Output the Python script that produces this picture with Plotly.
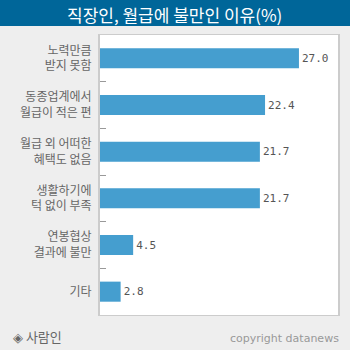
import plotly.graph_objects as go

categories = ["노력만큼<br>받지 못함", "동종업계에서<br>월급이 적은 편", "월급 외 어떠한<br>혜택도 없음",
              "생활하기에<br>턱 없이 부족", "연봉협상<br>결과에 불만", "기타"]
values = [27.0, 22.4, 21.7, 21.7, 4.5, 2.8]
value_labels = ["27.0", "22.4", "21.7", "21.7", "4.5", "2.8"]
title_text = "직장인, 월급에 불만인 이유(%)"
source_left = "◈ 사람인"
source_right = "copyright datanews"

KR = "Noto Sans CJK KR"

fig = go.Figure()
fig.add_trace(go.Bar(
    x=values, y=categories, orientation="h",
    marker=dict(color="#459ECF", line=dict(width=0)),
    width=0.43,
    text=value_labels, textposition="outside",
    textfont=dict(family="DejaVu Sans Mono", size=11, color="#555555"),
    cliponaxis=False,
))

fig.update_layout(
    width=350, height=350,
    paper_bgcolor="#EEEEEE", plot_bgcolor="#FFFFFF",
    margin=dict(l=100, r=10, t=35, b=35),
    showlegend=False,
    xaxis=dict(range=[0, 32.3], showgrid=False, zeroline=False, showticklabels=False,
               showline=True, linecolor="#CCCCCC", linewidth=1, mirror=True, fixedrange=True),
    yaxis=dict(autorange="reversed", showgrid=False, zeroline=False,
               showline=True, linecolor="#CCCCCC", linewidth=2, mirror=True,
               ticks="inside", tickson="boundaries", ticklen=6, tickcolor="#999999", tickwidth=1,
               ticklabelstandoff=4,
               tickfont=dict(family=KR, size=12, color="#666666")),
    shapes=[dict(type="rect", xref="paper", yref="paper", x0=-0.5, x1=1.5,
                 y0=(350 - 35 - 26) / 280, y1=2, fillcolor="#006699", line=dict(width=0),
                 layer="below")],
    annotations=[
        dict(text=title_text, xref="paper", yref="paper", x=(175 - 100) / 240, xanchor="center",
             y=(350 - 35 - 14) / 280, yanchor="middle", showarrow=False,
             font=dict(family=KR, size=17, color="#FFFFFF")),
        dict(text=source_left, xref="paper", yref="paper", x=-90 / 240, xanchor="left",
             y=-(336 - 315) / 280, yanchor="middle", showarrow=False,
             font=dict(family=KR, size=13, color="#666666")),
        dict(text=source_right, xref="paper", yref="paper", x=(343 - 100) / 240, xanchor="right",
             y=-(338 - 315) / 280, yanchor="middle", showarrow=False,
             font=dict(family="DejaVu Sans", size=11, color="#999999")),
    ],
)
fig.write_html("out.html")
